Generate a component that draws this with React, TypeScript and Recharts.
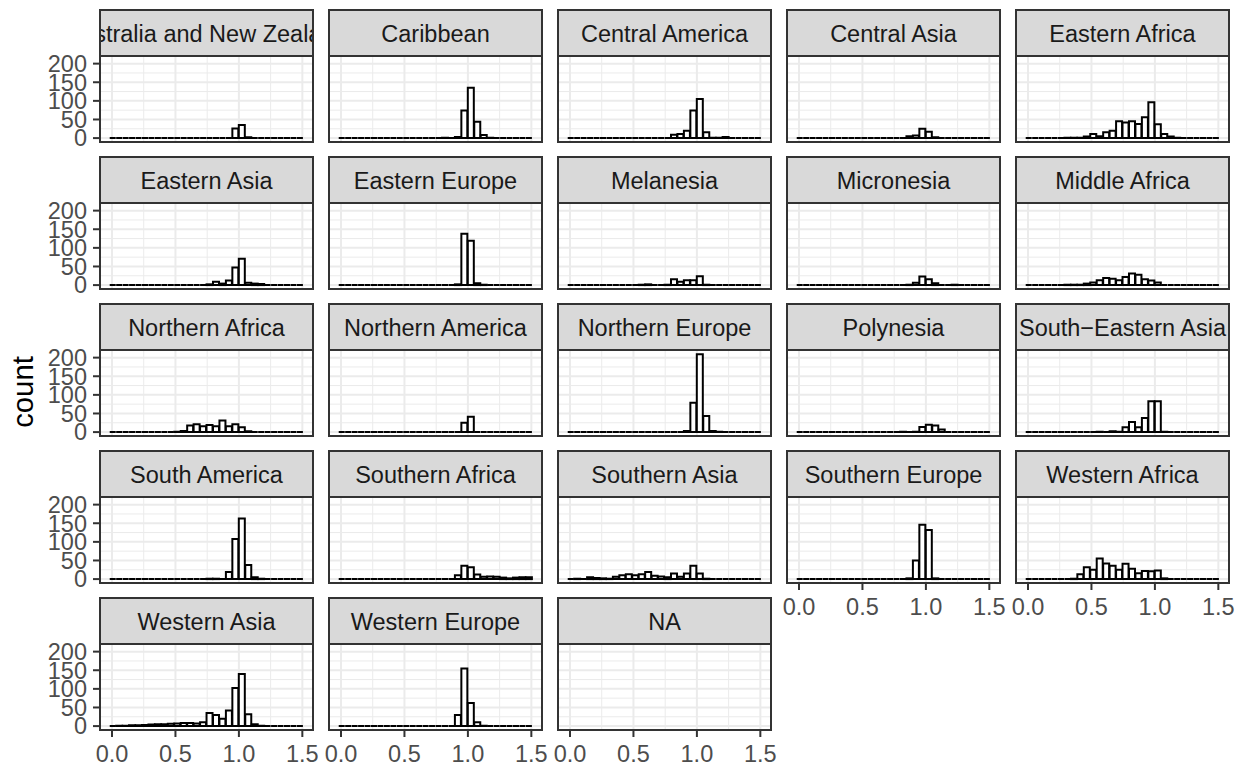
import React from 'react';
import { ComposedChart, Bar, XAxis, YAxis, CartesianGrid } from 'recharts';

// histogram bin centres (30 bins, shared by every facet)
const BINS = [
  0.008, 0.058, 0.109, 0.160, 0.211, 0.262, 0.313, 0.364, 0.415, 0.466,
  0.517, 0.567, 0.618, 0.669, 0.720, 0.771, 0.822, 0.873, 0.924, 0.975,
  1.026, 1.076, 1.127, 1.178, 1.229, 1.280, 1.331, 1.382, 1.433, 1.484,
];
const BIN_LO = -0.018;
const BIN_HI = 1.508;

const X_TICKS = [0, 0.5, 1, 1.5];
const X_MINOR = [0.25, 0.75, 1.25];
const Y_TICKS = [0, 50, 100, 150, 200];
const Y_MINOR = [25, 75, 125, 175];

// counts per bin, one array per region
const ausNz = [0,0,0,0,0,0,0,0,0,0, 0,0,0,0,0,0,0,0,0,26, 35,2,0,0,0,0,0,0,0,0];
const caribbean = [0,0,0,0,0,0,0,0,0,0, 0,0,0,0,0,0,1,0,3,74, 135,44,8,1,0,0,0,0,0,0];
const centralAmerica = [0,0,0,0,0,0,0,0,0,0, 0,0,0,0,0,0,9,11,20,74, 105,16,1,1,3,0,0,0,0,0];
const centralAsia = [0,0,0,0,0,0,0,0,0,0, 0,0,0,0,0,0,0,5,7,25, 17,2,0,0,0,0,0,0,0,0];
const easternAfrica = [0,0,0,0,0,0,1,1,1,4, 11,5,16,20,45,42,45,38,56,96, 37,11,4,1,0,0,0,0,0,0];
const easternAsia = [0,0,0,0,0,0,0,0,0,0, 0,0,0,0,0,2,9,4,12,47, 71,6,4,3,0,0,0,0,0,0];
const easternEurope = [0,0,0,0,0,0,0,0,0,0, 0,0,0,0,0,0,0,0,2,138, 119,5,1,0,0,0,0,0,0,0];
const melanesia = [0,0,0,0,0,0,0,0,0,0, 0,1,2,0,0,1,16,9,13,13, 24,1,0,0,0,0,0,0,0,0];
const micronesia = [0,0,0,0,0,0,0,0,0,0, 0,0,0,0,0,0,0,1,6,23, 16,5,0,0,1,0,0,0,0,0];
const middleAfrica = [0,0,0,0,0,0,1,1,1,4, 7,13,19,17,13,22,31,28,16,12, 7,0,0,0,0,0,0,0,0,0];
const northernAfrica = [0,0,0,0,0,0,0,0,0,0, 1,3,18,21,16,19,16,31,16,21, 13,2,0,0,0,0,0,0,0,0];
const northernAmerica = [0,0,0,0,0,0,0,0,0,0, 0,0,0,0,0,0,0,0,0,25, 41,0,0,0,0,0,0,0,0,0];
const northernEurope = [0,0,0,0,0,0,0,0,0,0, 0,0,0,0,0,0,0,0,3,79, 209,43,3,1,0,0,0,0,0,0];
const polynesia = [0,0,0,0,0,0,0,0,0,0, 0,0,0,0,0,0,1,0,1,14, 20,18,7,0,0,0,0,0,0,0];
const southEasternAsia = [0,0,0,0,0,0,0,0,0,0, 0,1,0,2,1,13,27,13,38,83, 83,1,0,0,0,0,0,0,0,0];
const southAmerica = [0,0,0,0,0,0,0,0,0,0, 0,0,0,0,0,1,1,0,19,108, 163,38,5,1,0,0,0,0,0,0];
const southernAfrica = [0,0,0,0,0,0,0,0,0,0, 0,0,0,0,0,0,0,0,10,36, 32,12,6,7,6,4,2,4,5,5];
const southernAsia = [0,1,0,5,3,2,1,6,10,13, 10,13,19,9,7,5,15,6,15,36, 15,1,0,0,0,0,0,0,0,0];
const southernEurope = [0,0,0,0,0,0,0,0,0,0, 0,0,0,0,0,0,0,2,50,146, 132,2,0,0,0,0,0,0,0,0];
const westernAfrica = [0,0,0,0,0,0,0,1,13,32, 25,55,42,36,25,41,28,16,22,21, 23,2,0,0,0,0,0,0,0,0];
const westernAsia = [0,1,1,2,2,3,4,5,5,6, 7,8,8,7,10,35,30,20,42,102, 140,32,5,1,0,0,0,0,0,0];
const westernEurope = [0,0,0,0,0,0,0,0,0,0, 0,0,0,0,0,0,0,0,30,155, 62,10,1,0,0,0,0,0,0,0];

const REGIONS: { name: string; counts: number[] | null }[] = [
  { name: 'Australia and New Zealand', counts: ausNz },
  { name: 'Caribbean', counts: caribbean },
  { name: 'Central America', counts: centralAmerica },
  { name: 'Central Asia', counts: centralAsia },
  { name: 'Eastern Africa', counts: easternAfrica },
  { name: 'Eastern Asia', counts: easternAsia },
  { name: 'Eastern Europe', counts: easternEurope },
  { name: 'Melanesia', counts: melanesia },
  { name: 'Micronesia', counts: micronesia },
  { name: 'Middle Africa', counts: middleAfrica },
  { name: 'Northern Africa', counts: northernAfrica },
  { name: 'Northern America', counts: northernAmerica },
  { name: 'Northern Europe', counts: northernEurope },
  { name: 'Polynesia', counts: polynesia },
  { name: 'South\u2212Eastern Asia', counts: southEasternAsia },
  { name: 'South America', counts: southAmerica },
  { name: 'Southern Africa', counts: southernAfrica },
  { name: 'Southern Asia', counts: southernAsia },
  { name: 'Southern Europe', counts: southernEurope },
  { name: 'Western Africa', counts: westernAfrica },
  { name: 'Western Asia', counts: westernAsia },
  { name: 'Western Europe', counts: westernEurope },
  { name: 'NA', counts: null },
];

const X_DOMAIN: [number, number] = [-0.0946, 1.584];
const Y_DOMAIN: [number, number] = [-10.5, 220.5];

const FONT = '"Liberation Sans", Arial, Helvetica, sans-serif';
const PANEL_W = 213;
const STRIP_H = 46;
const PLOT_H = 86;
const COL_X = [100, 329, 558, 787, 1016];
const ROW_Y = [10, 157, 304, 451, 598];
const Y_W = 60;
const X_H = 40;
const PAD = 20; // room around each chart so edge labels are not clipped
const NCOL = 5;

const padL = (PANEL_W * (BIN_LO - X_DOMAIN[0])) / (X_DOMAIN[1] - X_DOMAIN[0]);
const padR = (PANEL_W * (X_DOMAIN[1] - BIN_HI)) / (X_DOMAIN[1] - X_DOMAIN[0]);

// outlined bar; zero counts still draw as a flat line like ggplot does
const HistBar = (props: any) => {
  const { x, y, width, height } = props;
  if (x == null || y == null) return null;
  const h = height || 0;
  return (
    <path
      d={`M${x},${y + h}V${y}H${x + width}V${y + h}Z`}
      fill="#ffffff"
      stroke="#000000"
      strokeWidth={2}
    />
  );
};

const tickStyle = { fontSize: 23.5, fill: '#4D4D4D', fontFamily: FONT };

const Panel = ({ idx, name, counts }: { idx: number; name: string; counts: number[] | null }) => {
  const col = idx % NCOL;
  const row = Math.floor(idx / NCOL);
  const showY = col === 0;
  const showX = idx + NCOL >= REGIONS.length;
  const left = COL_X[col];
  const top = ROW_Y[row];
  const data = BINS.map((b, i) => ({ bin: b, count: counts ? counts[i] : 0 }));

  return (
    <>
      <div style={{ position: 'absolute', left: left - PAD - (showY ? Y_W : 0), top: top + STRIP_H - PAD }}>
        <ComposedChart
          width={PAD + (showY ? Y_W : 0) + PANEL_W + PAD}
          height={PAD + PLOT_H + (showX ? X_H : 0) + PAD}
          data={data}
          margin={{ top: PAD, right: PAD, bottom: PAD, left: PAD }}
          barCategoryGap={0}
          barGap={0}
        >
          <CartesianGrid xAxisId="num" stroke="#EBEBEB" strokeWidth={1} verticalValues={X_MINOR} horizontalValues={Y_MINOR} />
          <CartesianGrid xAxisId="num" stroke="#EBEBEB" strokeWidth={2} verticalValues={X_TICKS} horizontalValues={Y_TICKS} />
          <XAxis
            xAxisId="bins"
            dataKey="bin"
            type="category"
            orientation="top"
            height={0}
            hide
            padding={{ left: padL, right: padR }}
          />
          <XAxis
            xAxisId="num"
            dataKey="bin"
            type="number"
            domain={X_DOMAIN}
            allowDataOverflow
            ticks={X_TICKS}
            interval={0}
            hide={!showX}
            height={X_H}
            axisLine={false}
            tickSize={7}
            tickMargin={8}
            tickLine={{ stroke: '#333333', strokeWidth: 2 }}
            tick={tickStyle}
            tickFormatter={(v: number) => v.toFixed(1)}
          />
          <YAxis
            type="number"
            domain={Y_DOMAIN}
            allowDataOverflow
            ticks={Y_TICKS}
            interval={0}
            hide={!showY}
            width={Y_W}
            axisLine={false}
            tickSize={7}
            tickMargin={6}
            tickLine={{ stroke: '#333333', strokeWidth: 2 }}
            tick={tickStyle}
          />
          {counts && (
            <Bar xAxisId="bins" dataKey="count" shape={HistBar} isAnimationActive={false} />
          )}
        </ComposedChart>
      </div>
      {/* panel border */}
      <div
        style={{
          position: 'absolute',
          left: left - 1,
          top: top + STRIP_H - 1,
          width: PANEL_W + 2,
          height: PLOT_H + 2,
          border: '2px solid #333333',
          boxSizing: 'border-box',
          pointerEvents: 'none',
        }}
      />
      {/* facet strip */}
      <div
        style={{
          position: 'absolute',
          left: left - 1,
          top: top - 1,
          width: PANEL_W + 2,
          height: STRIP_H + 2,
          background: '#D9D9D9',
          border: '2px solid #333333',
          boxSizing: 'border-box',
          overflow: 'hidden',
          display: 'flex',
          alignItems: 'center',
          justifyContent: 'center',
          paddingTop: 2,
          fontFamily: FONT,
          fontSize: 23.5,
          color: '#1A1A1A',
          whiteSpace: 'nowrap',
        }}
      >
        <span style={{ flexShrink: 0 }}>{name}</span>
      </div>
    </>
  );
};

const App = () => {
  return (
    <div style={{ position: 'absolute', left: 0, top: 0, width: 1245, height: 765, background: '#ffffff', overflow: 'hidden' }}>
      <svg style={{ position: 'absolute', left: 0, top: 0 }} width={60} height={765}>
        <text
          transform="rotate(-90)"
          x={-392}
          y={33}
          textAnchor="middle"
          fontSize={29.3}
          fontFamily={FONT}
          fill="#000000"
        >
          count
        </text>
      </svg>
      {REGIONS.map((r, i) => (
        <Panel key={r.name} idx={i} name={r.name} counts={r.counts} />
      ))}
    </div>
  );
};

export default App;
